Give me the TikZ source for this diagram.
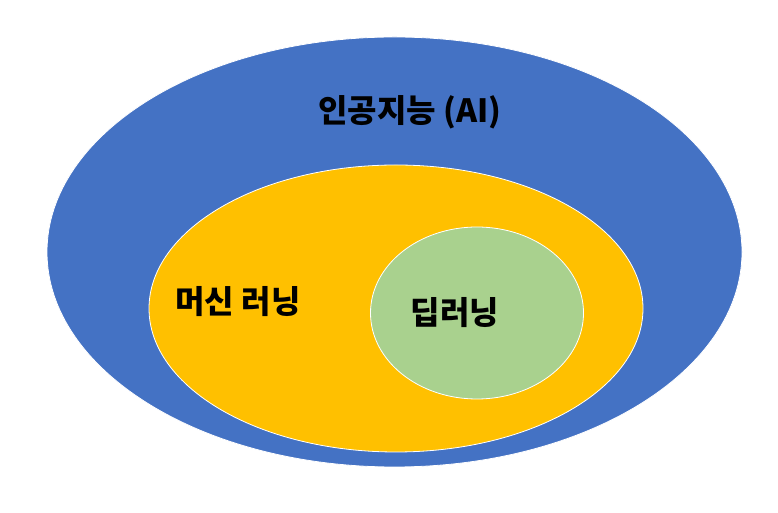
\documentclass[tikz,border=0pt]{standalone}
\usepackage{fontspec}
\newfontfamily\kor{Noto Sans CJK KR}
\usepackage{tikz}
\usetikzlibrary{shapes.geometric,positioning}

\definecolor{aiblue}{HTML}{4472C4}
\definecolor{mlyellow}{HTML}{FFC000}
\definecolor{dlgreen}{HTML}{A9D18E}

\tikzset{
  blob/.style={ellipse, draw=white, line width=0.8pt, inner sep=0pt},
  lab/.style={font=\kor\bfseries\fontsize{32}{36}\selectfont, text=black}
}

\begin{document}
\begin{tikzpicture}[x=1pt,y=1pt]
  \useasboundingbox (0,0) rectangle (778,513);
  % nested sets: AI > ML > DL
  \node[blob, fill=aiblue, minimum width=695pt, minimum height=430pt] (ai) at (394.5,261) {};
  \node[blob, fill=mlyellow, minimum width=494pt, minimum height=287pt] (ml) at (396,204.5) {};
  \node[blob, fill=dlgreen, minimum width=213pt, minimum height=172pt] (dl) at (477,200) {};
  % labels
  \node[lab] (ailab) at (410,401) {인공지능 (AI)};
  \node[lab] (mllab) at (238,211) {머신 러닝};
  \node[lab] (dllab) at (455,200) {딥러닝};
\end{tikzpicture}
\end{document}
